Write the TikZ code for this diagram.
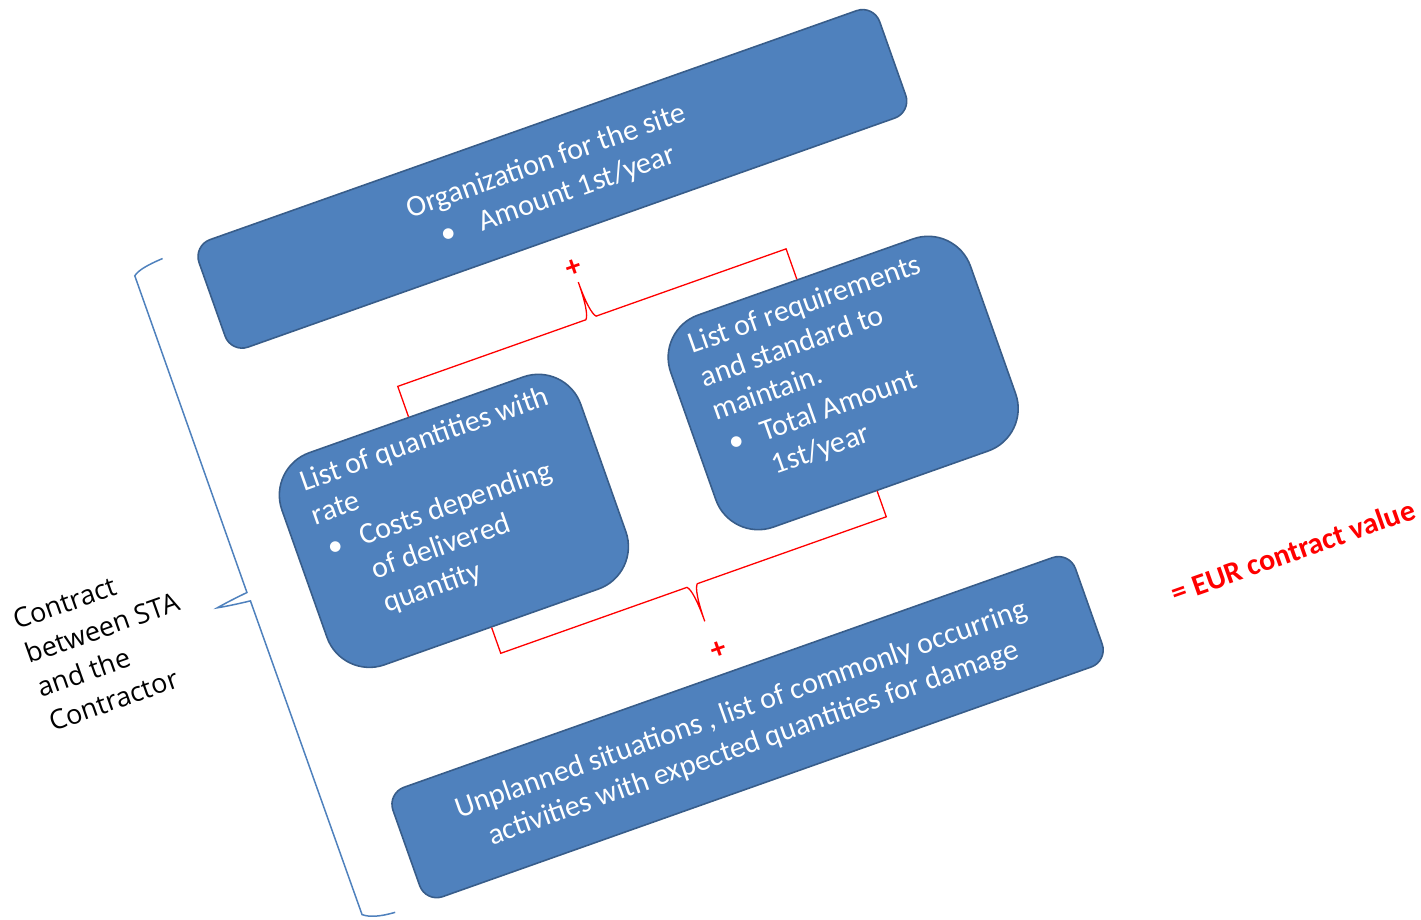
\documentclass[tikz,border=0pt]{standalone}
\usepackage{fontspec}
\setmainfont{Carlito}
\newfontfamily\contratfont{Open Sans}
\usetikzlibrary{calc}

\definecolor{blocbleu}{HTML}{4F81BD}
\definecolor{bordbleu}{HTML}{385D8A}

\tikzset{
  bloc/.style={draw=bordbleu, line width=1.6pt, fill=blocbleu, text=white,
    rounded corners=18pt, inner sep=0pt, font=\fontsize{30}{36}\selectfont},
  liste/.style={bloc, rounded corners=45pt, inner xsep=27pt, inner ysep=10pt,
    font=\fontsize{30}{35.5}\selectfont},
  accrouge/.style={red, line width=1.3pt, line join=miter},
  accbleue/.style={draw=blocbleu, line width=1.5pt},
  plus/.style={text=red, font=\fontsize{30}{30}\selectfont\bfseries, inner sep=0pt},
}

\begin{document}
\begin{tikzpicture}[x=1pt,y=1pt]

  \useasboundingbox (0,0) rectangle (1421,-919);

  \begin{scope}[rotate=19.5, transform shape]

    % Hauteurs des niveaux
    \def\hhaut{-353}    % centre du bloc du haut
    \def\hmilieu{-642.5} % centre des deux listes
    \def\hbas{-935}     % centre du bloc du bas

    % ==============================================
    % 1. BLOCS
    % ==============================================
    \node[bloc, minimum width=722, minimum height=114, align=center] (orga) at (461,\hhaut)
      {Organization for the site\\ \makebox[40pt][l]{•}Amount 1st/year};

    \node[liste] (qty) at (254,\hmilieu)
      {\parbox[c][205pt][t]{263pt}{\raggedright\vspace*{4pt}
        \mbox{List of quantities with}\\
        rate\\
        \makebox[38pt][l]{\hspace{4pt}•}Costs depending\\
        \hspace*{38pt}of delivered\\
        \hspace*{38pt}quantity}};

    \node[liste] (req) at (667,\hmilieu)
      {\parbox[c][205pt][t]{264pt}{\raggedright\vspace*{4pt}
        \mbox{List of requirements}\\
        and standard to\\
        maintain.\\
        \makebox[38pt][l]{\hspace{4pt}•}Total Amount\\
        \hspace*{38pt}1st/year}};

    \node[bloc, minimum width=724, minimum height=116, align=center] (imprevu) at (462,\hbas)
      {Unplanned situations , list of commonly occurring\\ activities with expected quantities for damage};

    % ==============================================
    % 2. ACCOLADES ROUGES ET SIGNES +
    % ==============================================
    \coordinate (pointehaut) at (451,-459);
    \draw[accrouge] ($(qty.north)+(-8,0)$) |- (445.5,-497)
      .. controls (449,-494) and (451,-480) .. (pointehaut)
      .. controls (451,-480) and (453,-494) .. (456.5,-497) -| ($(req.north)+(-9,0)$);
    \node[plus] (plushaut) at (451,-444) {+};

    \coordinate (pointebas) at (457,-821);
    \draw[accrouge] (qty.south) |- (451.5,-783)
      .. controls (455,-786) and (457,-800) .. (pointebas)
      .. controls (457,-800) and (459,-786) .. (462.5,-783) -| ($(req.south)+(-4,0)$);
    \node[plus] (plusbas) at (460,-853) {+};

    % ==============================================
    % 3. ACCOLADE BLEUE ET TEXTES
    % ==============================================
    \coordinate (accdebut) at (67,-298);
    \coordinate (accfin) at (68,-992);
    \draw[accbleue] (accdebut) .. controls (50,-299) and (40,-301) .. (35,-305)
      -- (35,-641) .. controls (25,-642) and (10,-644) .. (2,-645.5)
      .. controls (10,-647) and (25,-649) .. (35.5,-650)
      -- (36,-983) .. controls (42,-988) and (52,-991) .. (accfin);

    \node[anchor=west, align=left, inner sep=0pt,
      font=\contratfont\fontsize{27}{36}\selectfont] (contrat) at (-194,-644)
      {Contract\\ between STA\\ and the\\ Contractor};

    \node[text=red, inner sep=0pt, font=\fontsize{30}{34}\selectfont\bfseries] (valeur) at (1035,-951)
      {= EUR contract value};

  \end{scope}

\end{tikzpicture}
\end{document}
